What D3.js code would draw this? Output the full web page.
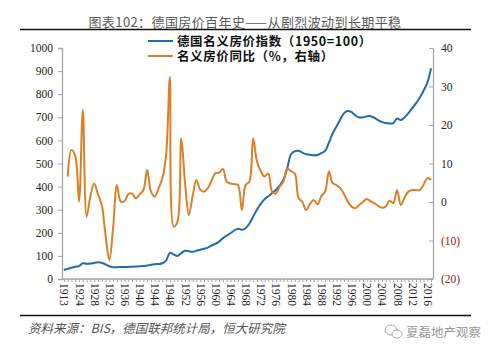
<html>
<head>
<meta charset="utf-8">
<script src="https://d3js.org/d3.v7.min.js"></script>
<style>
body { margin: 0; background: #fff; }
svg { display: block; }
.num text { font-family: "Liberation Serif", "Times New Roman", serif; font-size: 11.5px; }
</style>
</head>
<body>
<svg width="499" height="354"></svg>
<script>
// 类别：1913 之后直接接 1921（中间没有数据）
var years = [1913];
for (var y = 1921; y <= 2017; y++) years.push(y);

// 德国名义房价指数（1950=100），左轴
var priceIndex = [39,
  44, 49, 53, 56, 68, 66, 67, 70, 72, 70,
  63, 55, 51, 51, 52, 52, 52, 53, 54, 55,
  56, 58, 62, 64, 65, 68, 80, 113, 106, 100,
  112, 122, 120, 118, 122, 127, 131, 136, 145, 152,
  162, 177, 188, 198, 210, 218, 213, 220, 240, 270,
  300, 325, 345, 358, 372, 385, 405, 430, 480, 540,
  553, 555, 547, 540, 538, 536, 537, 545, 555, 590,
  630, 660, 690, 718, 727, 722, 708, 699, 700, 704,
  705, 698, 688, 680, 675, 673, 675, 695, 688, 700,
  718, 740, 760, 785, 815, 850, 912];

// 名义房价同比（%），右轴；1913 无数据
var yoy = [null,
  6.6, 13.5, 12.0, 0.1, 23.9, -3.8, 1.5, 4.8, 2.0, -0.8,
  -8.6, -15.1, -6.8, 4.4, 0.1, 0.2, 2.0, 2.2, 1.0, 2.0,
  3.1, 8.3, 2.7, 1.4, 3.5, 6.2, 12.2, 32.5, -6.4, -5.1,
  16.5, 5.0, -3.4, 1.5, 5.7, 3.2, 2.7, 3.6, 5.5, 7.5,
  7.6, 8.6, 5.3, 4.8, 4.6, 4.4, -2.1, 4.4, 5.3, 16.5,
  10.5, 8.0, 6.6, 7.4, 2.7, 2.2, 4.0, 5.3, 8.7, 8.0,
  7.4, 1.0, 0.0, -2.1, -0.5, 0.5, -0.6, 1.5, 2.7, 7.9,
  4.9, 4.4, 3.6, 2.0, 0.1, -1.2, -1.6, -0.8, 0.0, 0.8,
  0.2, -0.3, -1.0, -1.5, -1.2, 0.3, -0.3, 3.1, -0.8, 1.2,
  2.7, 3.1, 3.1, 3.1, 4.5, 6.2, 5.7];

var leftTicks = [0, 100, 200, 300, 400, 500, 600, 700, 800, 900, 1000];
var rightTicks = [-20, -10, 0, 10, 20, 30, 40];

var title = "图表102：德国房价百年史——从剧烈波动到长期平稳";
var legendNames = ["德国名义房价指数（1950=100）", "名义房价同比（%，右轴）"];
var source = "资料来源：BIS，德国联邦统计局，恒大研究院";
var watermark = "夏磊地产观察";

var blue = "#1f6ea8", orange = "#d98029";
var cjk = "'Noto Sans CJK SC', sans-serif";

var svg = d3.select("svg");

// 坐标
var x = d3.scalePoint().domain(years).range([62, 433]).padding(0.5);
var yL = d3.scaleLinear().domain([0, 1000]).range([279, 48]);
var yR = d3.scaleLinear().domain([-20, 40]).range([279, 48]);

// 标题 + 上下横线
svg.append("text")
  .attr("x", 245).attr("y", 27)
  .attr("text-anchor", "middle")
  .style("font-family", cjk).style("font-size", "13px")
  .style("letter-spacing", "0.4px")
  .style("fill", "#595959")
  .text(title);
svg.append("line").attr("x1", 20).attr("x2", 471).attr("y1", 29.5).attr("y2", 29.5)
  .style("stroke", "#111").style("stroke-width", 1.5);
svg.append("line").attr("x1", 20).attr("x2", 471).attr("y1", 315.5).attr("y2", 315.5)
  .style("stroke", "#111").style("stroke-width", 1.5);

// 左轴
var gL = svg.append("g").attr("class", "num").attr("transform", "translate(62,0)")
  .call(d3.axisLeft(yL).tickValues(leftTicks).tickSize(4).tickPadding(5).tickFormat(d3.format("d")));
// 右轴
var gR = svg.append("g").attr("class", "num").attr("transform", "translate(433,0)")
  .call(d3.axisRight(yR).tickValues(rightTicks).tickSizeInner(-4).tickSizeOuter(0).tickPadding(8)
    .tickFormat(function(d){ return d < 0 ? "(" + (-d) + ")" : d; }));
// 横轴
var gX = svg.append("g").attr("class", "num").attr("transform", "translate(0,279)")
  .call(d3.axisBottom(x).tickSize(3).tickSizeOuter(0)
    .tickFormat(function(d, i){ return i % 4 == 0 ? d : ""; }));

[gL, gR, gX].forEach(function(g){
  g.attr("font-family", null).attr("font-size", null);
  g.select(".domain").style("stroke", "#a6a6a6").style("stroke-width", 1.3);
  g.selectAll(".tick line").style("stroke", "#a6a6a6");
  g.selectAll("text").attr("fill", "#222");
});
gR.selectAll(".tick text").attr("fill", function(d){ return d < 0 ? "#8e2020" : "#222"; });
gX.selectAll(".tick text")
  .attr("transform", "rotate(90)")
  .attr("x", 4).attr("y", 0).attr("dy", "0.35em")
  .attr("text-anchor", "start");
gX.select(".domain").attr("d", "M62,0H433");

// 折线
var lineL = d3.line()
  .x(function(d, i){ return x(years[i]); })
  .y(function(d){ return yL(d); })
  .curve(d3.curveCatmullRom.alpha(0.5));
var lineR = d3.line()
  .defined(function(d){ return d != null; })
  .x(function(d, i){ return x(years[i]); })
  .y(function(d){ return yR(d); })
  .curve(d3.curveCatmullRom.alpha(0.5));

svg.append("path").datum(priceIndex).attr("d", lineL)
  .style("fill", "none").style("stroke", blue).style("stroke-width", 2);
svg.append("path").datum(yoy).attr("d", lineR)
  .style("fill", "none").style("stroke", orange).style("stroke-width", 2);

// 图例
[blue, orange].forEach(function(c, i){
  var ly = 41 + i * 15;
  svg.append("line").attr("x1", 148).attr("x2", 173).attr("y1", ly).attr("y2", ly)
    .style("stroke", c).style("stroke-width", 2);
  svg.append("text").attr("x", 177).attr("y", ly + 4.5)
    .style("font-family", cjk).style("font-size", "12.5px").style("font-weight", "bold")
    .style("letter-spacing", "0.6px")
    .style("fill", "#111")
    .text(legendNames[i]);
});

// 来源
svg.append("text").attr("x", 28).attr("y", 333)
  .style("font-family", cjk).style("font-size", "12.5px").style("font-style", "italic")
  .style("fill", "#555")
  .text(source);

// 水印
var wm = svg.append("g").attr("transform", "translate(393,332)").style("fill", "none").style("stroke", "#aaa");
wm.append("ellipse").attr("cx", -2).attr("cy", -2).attr("rx", 6).attr("ry", 5);
wm.append("ellipse").attr("cx", 4).attr("cy", 2).attr("rx", 5).attr("ry", 4).style("fill", "#fff");
svg.append("text").attr("x", 406).attr("y", 337)
  .style("font-family", cjk).style("font-size", "12.5px")
  .style("fill", "#999")
  .text(watermark);
</script>
</body>
</html>
